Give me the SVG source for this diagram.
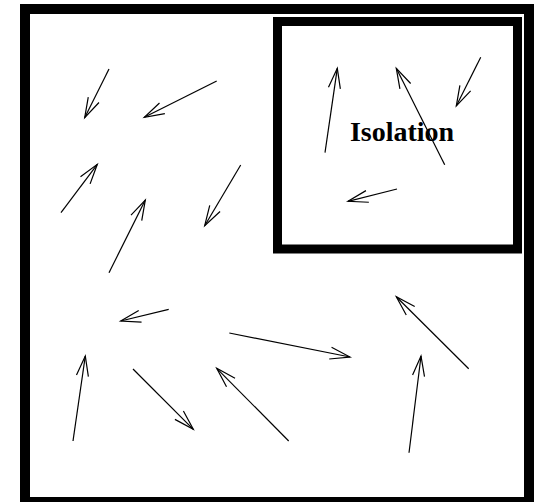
<svg xmlns="http://www.w3.org/2000/svg" width="539" height="502" viewBox="0 0 539 502">
<style>
.frame{fill:none;stroke:#000}
.arr{fill:none;stroke:#000;stroke-width:1.2;marker-end:url(#ah)}
.label{font-family:"Liberation Serif","Times New Roman",serif;font-weight:bold;font-size:28px;fill:#000}
</style>
<defs>
<marker id="ah" markerUnits="userSpaceOnUse" orient="auto" overflow="visible" refX="0" refY="0" markerWidth="1" markerHeight="1">
<path d="M-20,-6 L0,0 L-20,6" fill="none" stroke="#000" stroke-width="1.2"/>
</marker>
</defs>
<rect width="539" height="502" fill="#fff"/>
<g id="outer">
<rect class="frame" x="25" y="9" width="504" height="493" stroke-width="10"/>
</g>
<g id="isolation">
<rect class="frame" x="277.5" y="21.5" width="240" height="227.5" stroke-width="9"/>
<text class="label" x="402" y="141" text-anchor="middle">Isolation</text>
</g>
<g id="connectors">
<line class="arr" x1="109" y1="69" x2="84.7" y2="117.7"/>
<line class="arr" x1="216.7" y1="81" x2="144.3" y2="117.3"/>
<line class="arr" x1="61" y1="212.7" x2="97.3" y2="164.3"/>
<line class="arr" x1="240.7" y1="165" x2="204.7" y2="225.7"/>
<line class="arr" x1="109" y1="272.7" x2="145.3" y2="200"/>
<line class="arr" x1="325" y1="152.7" x2="337.3" y2="68.3"/>
<line class="arr" x1="444.7" y1="164.7" x2="396.3" y2="68.3"/>
<line class="arr" x1="480.7" y1="57.3" x2="456.3" y2="106"/>
<line class="arr" x1="397" y1="189" x2="348" y2="201.3"/>
<line class="arr" x1="168.7" y1="309.3" x2="120.7" y2="321"/>
<line class="arr" x1="73" y1="441" x2="85.3" y2="356"/>
<line class="arr" x1="133" y1="369" x2="193.3" y2="429.3"/>
<line class="arr" x1="288.7" y1="441" x2="216.7" y2="368.3"/>
<line class="arr" x1="229.3" y1="333" x2="350" y2="357"/>
<line class="arr" x1="468.7" y1="368.7" x2="396.3" y2="296.7"/>
<line class="arr" x1="409" y1="452.7" x2="421" y2="356"/>
</g>
</svg>
